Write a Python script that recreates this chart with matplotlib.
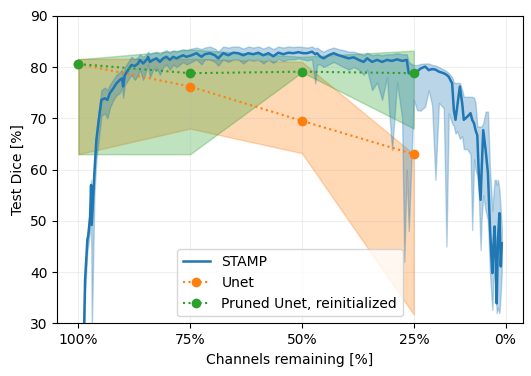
import numpy as np
import matplotlib
matplotlib.use("Agg")
import matplotlib.pyplot as plt

# STAMP: channels remaining [%], mean test dice and band edges
stamp_x = [98.84, 98.50, 97.99, 97.76, 97.38, 97.16, 97.00, 96.42, 96.11, 95.97,
           95.43, 94.85, 94.09, 93.51, 92.97, 92.23, 91.50, 90.73, 90.22, 90.00,
           89.62, 88.88, 88.14, 87.38, 86.64, 86.26, 85.52, 84.78, 84.40, 84.02,
           83.28, 82.54, 81.78, 81.04, 80.30, 79.54, 78.81, 78.07, 77.31, 76.57,
           75.83, 74.71, 73.60, 72.48, 71.74, 70.62, 69.49, 68.73, 67.62, 66.49,
           65.37, 64.25, 63.13, 62.01, 60.89, 59.77, 58.65, 57.53, 56.42, 55.30,
           54.18, 53.06, 51.94, 50.82, 49.70, 48.88, 47.76, 47.02, 46.64, 45.90,
           45.17, 44.05, 42.93, 41.81, 40.69, 39.57, 38.45, 37.33, 36.21, 35.45,
           34.33, 33.22, 32.10, 30.98, 30.53, 29.86, 28.74, 27.62, 27.13, 26.58,
           26.14, 25.38, 25.02, 24.26, 23.51, 22.47, 21.67, 20.91, 20.17, 19.39,
           18.31, 17.70, 17.19, 16.43, 16.05, 15.68, 15.30, 14.71, 14.18, 13.83,
           13.06, 12.32, 11.95, 11.53, 11.20, 10.81, 10.48, 10.07, 9.86, 9.48,
           8.94, 8.43, 7.98, 7.69, 7.44, 7.21, 6.93, 6.63, 6.47, 6.19,
           5.86, 5.56, 5.33]
stamp_mean = [24.0, 38.5, 46.3, 47.3, 50.8, 57.0, 49.2, 59.3, 63.8, 65.8,
              69.7, 73.6, 73.9, 73.6, 74.9, 75.8, 76.8, 77.5, 77.8, 76.2,
              78.4, 79.4, 80.4, 80.2, 80.7, 81.4, 80.7, 81.4, 82.0, 81.0,
              81.4, 81.7, 81.0, 81.7, 82.0, 81.4, 82.0, 81.7, 82.0, 82.3,
              82.0, 82.3, 82.7, 82.0, 82.5, 82.7, 82.3, 81.7, 82.7, 82.3,
              82.8, 82.7, 82.3, 82.7, 82.5, 82.8, 82.3, 82.7, 82.1, 82.8,
              82.5, 82.8, 82.7, 82.9, 82.7, 82.7, 83.0, 82.5, 82.7, 82.0,
              81.7, 82.3, 82.7, 82.3, 82.0, 81.7, 81.9, 81.4, 81.0, 81.7,
              81.0, 81.4, 81.0, 81.4, 81.3, 81.2, 81.5, 81.2, 81.3, 81.4,
              78.8, 78.8, 78.8, 79.1, 79.7, 80.1, 79.4, 79.6, 79.5, 79.1,
              78.8, 78.5, 78.1, 76.8, 71.6, 69.7, 72.3, 76.2, 72.9, 69.7,
              70.3, 71.0, 69.7, 69.0, 67.7, 66.7, 59.3, 54.1, 59.3, 67.7,
              63.8, 59.3, 48.9, 43.7, 39.8, 45.0, 48.9, 39.8, 33.9, 46.3,
              51.5, 41.1, 45.6]
stamp_low = [20.0, 36.0, 44.0, 45.5, 48.0, 52.0, 28.0, 55.0, 60.0, 62.0,
             66.0, 70.5, 71.0, 70.0, 72.0, 73.5, 74.5, 75.0, 76.0, 74.0,
             76.5, 77.5, 78.5, 77.5, 78.5, 79.5, 77.5, 79.5, 80.5, 78.0,
             79.5, 80.0, 78.5, 80.0, 80.5, 79.5, 80.5, 80.0, 80.5, 81.0,
             80.5, 81.0, 81.5, 80.5, 81.5, 81.5, 81.0, 80.3, 81.5, 81.0,
             81.5, 81.5, 80.7, 81.5, 81.3, 81.5, 80.7, 81.5, 80.8, 81.6,
             81.2, 81.5, 81.5, 81.7, 81.5, 81.3, 81.5, 76.8, 80.5, 80.5,
             80.0, 80.5, 81.0, 80.5, 80.0, 79.5, 80.0, 79.5, 78.5, 79.5,
             75.5, 77.0, 73.6, 78.0, 71.6, 63.8, 77.0, 70.0, 42.0, 60.0,
             48.0, 65.0, 73.6, 71.6, 71.5, 72.3, 75.5, 72.5, 58.0, 73.0,
             72.0, 45.0, 71.0, 69.0, 68.5, 67.0, 67.5, 66.0, 66.5, 64.0,
             64.0, 63.0, 48.2, 62.0, 60.0, 59.0, 55.0, 44.3, 50.0, 55.0,
             52.0, 50.0, 40.0, 36.0, 32.6, 38.0, 40.0, 35.0, 32.0, 33.0,
             32.0, 36.0, 40.0]
stamp_high = [28.0, 40.0, 47.5, 49.0, 53.0, 58.0, 51.0, 61.0, 65.5, 67.5,
              71.5, 75.5, 76.0, 75.5, 76.5, 77.5, 78.5, 79.0, 79.5, 78.0,
              80.0, 81.0, 82.0, 81.5, 82.0, 82.5, 82.0, 82.5, 83.0, 82.5,
              82.8, 83.0, 82.5, 83.0, 83.3, 82.8, 83.3, 83.0, 83.3, 83.5,
              83.3, 83.6, 83.8, 83.5, 83.8, 84.0, 83.6, 83.0, 84.0, 83.8,
              84.0, 84.0, 83.6, 84.0, 83.8, 84.0, 83.6, 84.0, 83.5, 84.0,
              83.8, 84.0, 83.9, 84.0, 83.9, 83.8, 84.0, 83.6, 83.8, 83.3,
              83.0, 83.5, 83.8, 83.5, 83.3, 83.0, 83.0, 82.7, 82.3, 82.8,
              82.3, 82.5, 82.3, 82.5, 82.5, 82.5, 82.7, 82.5, 82.5, 82.5,
              81.0, 80.5, 80.4, 80.4, 80.6, 80.7, 80.7, 80.4, 80.3, 80.0,
              79.5, 79.2, 78.8, 78.0, 77.0, 76.9, 76.9, 76.9, 75.5, 74.2,
              74.2, 74.2, 74.2, 74.0, 73.0, 68.4, 68.4, 68.4, 68.4, 69.0,
              71.3, 71.3, 60.0, 56.0, 52.0, 55.0, 58.0, 58.0, 57.0, 58.0,
              56.0, 52.0, 48.6]

# Unet and pruned Unet (reinitialized), evaluated at four pruning levels
levels = [100, 75, 50, 25]
unet_mean = [80.6, 76.2, 69.5, 63.0]
unet_low = [63.0, 68.0, 63.2, 31.7]
unet_high = [81.6, 81.6, 81.0, 63.0]
pruned_mean = [80.6, 78.8, 79.1, 78.8]
pruned_low = [63.0, 63.0, 79.0, 68.0]
pruned_high = [81.5, 83.4, 82.0, 83.2]

tick_pos = [100, 75, 50, 25, 4.5]
tick_labels = ["100%", "75%", "50%", "25%", "0%"]

fig = plt.figure(figsize=(5.31, 3.76), dpi=100)
ax = fig.add_axes([0.108, 0.140, 0.876, 0.818])

ax.fill_between(levels, unet_low, unet_high, color="C1", alpha=0.3, zorder=1)
ax.fill_between(levels, pruned_low, pruned_high, color="C2", alpha=0.3, zorder=1)
ax.fill_between(stamp_x, stamp_low, stamp_high, color="C0", alpha=0.3, zorder=1)

ax.plot(stamp_x, stamp_mean, color="C0", lw=1.8, label="STAMP", zorder=3)
ax.plot(levels, unet_mean, ":", marker="o", ms=6, color="C1", label="Unet", zorder=4)
ax.plot(levels, pruned_mean, ":", marker="o", ms=6, color="C2",
        label="Pruned Unet, reinitialized", zorder=5)

ax.set_xlim(104.7, 0.7)
ax.set_ylim(30, 90)
ax.set_xticks(tick_pos)
ax.set_xticklabels(tick_labels)
ax.set_yticks(np.arange(30, 91, 10))
ax.grid(True, alpha=0.2)
ax.set_xlabel("Channels remaining [%]")
ax.set_ylabel("Test Dice [%]")
ax.legend(loc="lower center")

fig.savefig("out.png", dpi=100)
